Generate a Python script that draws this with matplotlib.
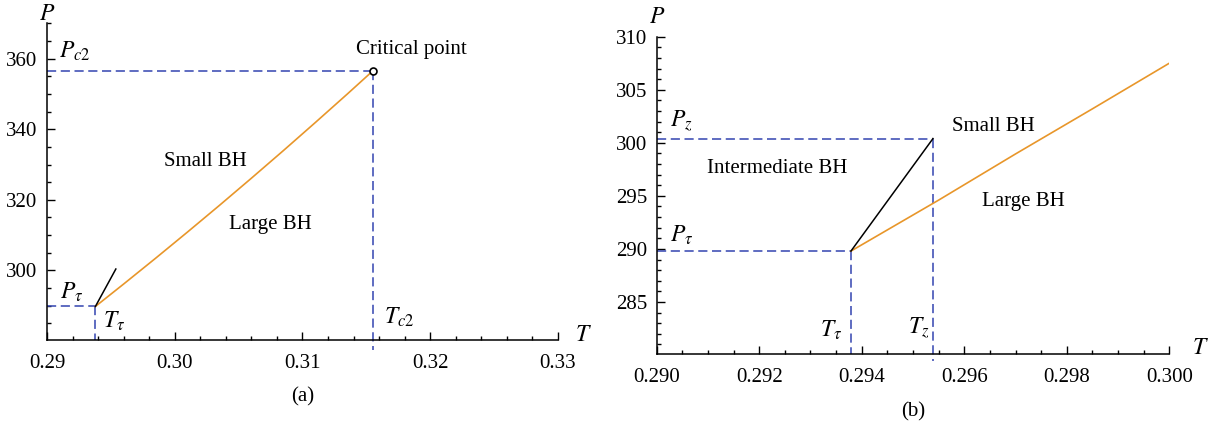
import matplotlib
matplotlib.use("Agg")
import matplotlib.pyplot as plt
from matplotlib.ticker import MultipleLocator, FormatStrFormatter

plt.rcParams["font.family"] = ["Liberation Serif", "DejaVu Serif"]
plt.rcParams["mathtext.fontset"] = "stix"

# phase points
T_tau, P_tau = 0.29379, 289.8
T_z, P_z = 0.29539, 300.4
T_c2, P_c2 = 0.31550, 356.5

# small/large BH coexistence line (orange)
T_sl = [0.29379, 0.2960, 0.2985, 0.3010, 0.3035, 0.3060, 0.3085, 0.3110, 0.3135, 0.3155]
P_sl = [289.8, 296.15, 303.45, 310.88, 318.43, 326.12, 333.93, 341.88, 349.94, 356.5]

# zoomed part of the same line for panel (b)
T_sl_b = [0.29379, 0.2955, 0.2970, 0.2985, 0.3000]
P_sl_b = [289.8, 294.6, 298.95, 303.2, 307.5]

# small/intermediate BH line (black)
T_si = [T_tau, T_z]
P_si = [P_tau, P_z]

ORANGE = "#E8962A"
BLUE = "#3344B0"
DASH = (0, (6.0, 3.0))
FS = 15
FM = 17

fig = plt.figure(figsize=(12.17, 4.28), dpi=100)
ax1 = fig.add_axes([0.0386, 0.2056, 0.4199, 0.740])
ax2 = fig.add_axes([0.5396, 0.1729, 0.4212, 0.7414])


def style(ax, xlim, ylim, xmaj, xmin, ymaj, ymin, xfmt):
    ax.set_xlim(*xlim)
    ax.set_ylim(*ylim)
    for s in ["top", "right"]:
        ax.spines[s].set_visible(False)
    for s in ["left", "bottom"]:
        ax.spines[s].set_linewidth(1.1)
    ax.xaxis.set_major_locator(MultipleLocator(xmaj))
    ax.xaxis.set_minor_locator(MultipleLocator(xmin))
    ax.yaxis.set_major_locator(MultipleLocator(ymaj))
    ax.yaxis.set_minor_locator(MultipleLocator(ymin))
    ax.xaxis.set_major_formatter(FormatStrFormatter(xfmt))
    ax.tick_params(which="both", direction="in", labelsize=FS, width=1.0)
    ax.tick_params(which="major", length=5.5)
    ax.tick_params(which="minor", length=3)
    ax.tick_params(axis="x", pad=10)
    ax.tick_params(axis="y", pad=7)


# ---- panel (a)
style(ax1, (0.29, 0.33), (280.3, 370), 0.01, 0.002, 20, 5, "%.2f")
ax1.plot([0.29, T_tau], [P_tau, P_tau], color=BLUE, lw=1.1, ls=DASH)
ax1.plot([T_tau, T_tau], [P_tau, 280.3], color=BLUE, lw=1.1, ls=DASH)
ax1.plot([0.29, T_c2], [P_c2, P_c2], color=BLUE, lw=1.1, ls=DASH)
ax1.plot([T_c2, T_c2], [P_c2, 277.6], color=BLUE, lw=1.1, ls=DASH, clip_on=False)
ax1.plot(T_sl, P_sl, color=ORANGE, lw=1.2)
ax1.plot(T_si, P_si, color="black", lw=1.1)
ax1.plot([T_c2], [P_c2], "o", ms=5, mfc="white", mec="black", mew=1.2)

kw = dict(ha="center", va="center", clip_on=False)
ax1.text(0.29, 372.6, "$P$", fontsize=FM, **kw)
ax1.text(0.3320, 281.7, "$T$", fontsize=FM, **kw)
ax1.text(0.29219, 362.1, "$P_{c2}$", fontsize=FM, **kw)
ax1.text(0.31849, 362.6, "Critical point", fontsize=FS, **kw)
ax1.text(0.30237, 330.9, "Small BH", fontsize=FS, **kw)
ax1.text(0.30746, 313.0, "Large BH", fontsize=FS, **kw)
ax1.text(0.29196, 293.9, "$P_\\tau$", fontsize=FM, **kw)
ax1.text(0.29524, 285.7, "$T_\\tau$", fontsize=FM, **kw)
ax1.text(0.31755, 286.6, "$T_{c2}$", fontsize=FM, **kw)
ax1.text(0.5, -0.18, "(a)", fontsize=FS, ha="center", va="center",
         transform=ax1.transAxes)

# ---- panel (b)
style(ax2, (0.290, 0.300), (280.1, 310), 0.002, 0.0005, 5, 1, "%.3f")
ax2.plot([0.29, T_tau], [P_tau, P_tau], color=BLUE, lw=1.1, ls=DASH)
ax2.plot([T_tau, T_tau], [P_tau, 280.1], color=BLUE, lw=1.1, ls=DASH)
ax2.plot([0.29, T_z], [P_z, P_z], color=BLUE, lw=1.1, ls=DASH)
ax2.plot([T_z, T_z], [P_z, 279.4], color=BLUE, lw=1.1, ls=DASH, clip_on=False)
ax2.plot(T_sl_b, P_sl_b, color=ORANGE, lw=1.2)
ax2.plot(T_si, P_si, color="black", lw=1.1)

ax2.text(0.290, 311.8, "$P$", fontsize=FM, **kw)
ax2.text(0.30060, 280.6, "$T$", fontsize=FM, **kw)
ax2.text(0.29049, 302.05, "$P_z$", fontsize=FM, **kw)
ax2.text(0.29235, 297.6, "Intermediate BH", fontsize=FS, **kw)
ax2.text(0.29656, 301.5, "Small BH", fontsize=FS, **kw)
ax2.text(0.29715, 294.5, "Large BH", fontsize=FS, **kw)
ax2.text(0.29049, 291.3, "$P_\\tau$", fontsize=FM, **kw)
ax2.text(0.29340, 282.3, "$T_\\tau$", fontsize=FM, **kw)
ax2.text(0.29512, 282.5, "$T_z$", fontsize=FM, **kw)
ax2.text(0.5, -0.183, "(b)", fontsize=FS, ha="center", va="center",
         transform=ax2.transAxes)

fig.savefig("out.png", dpi=100)
